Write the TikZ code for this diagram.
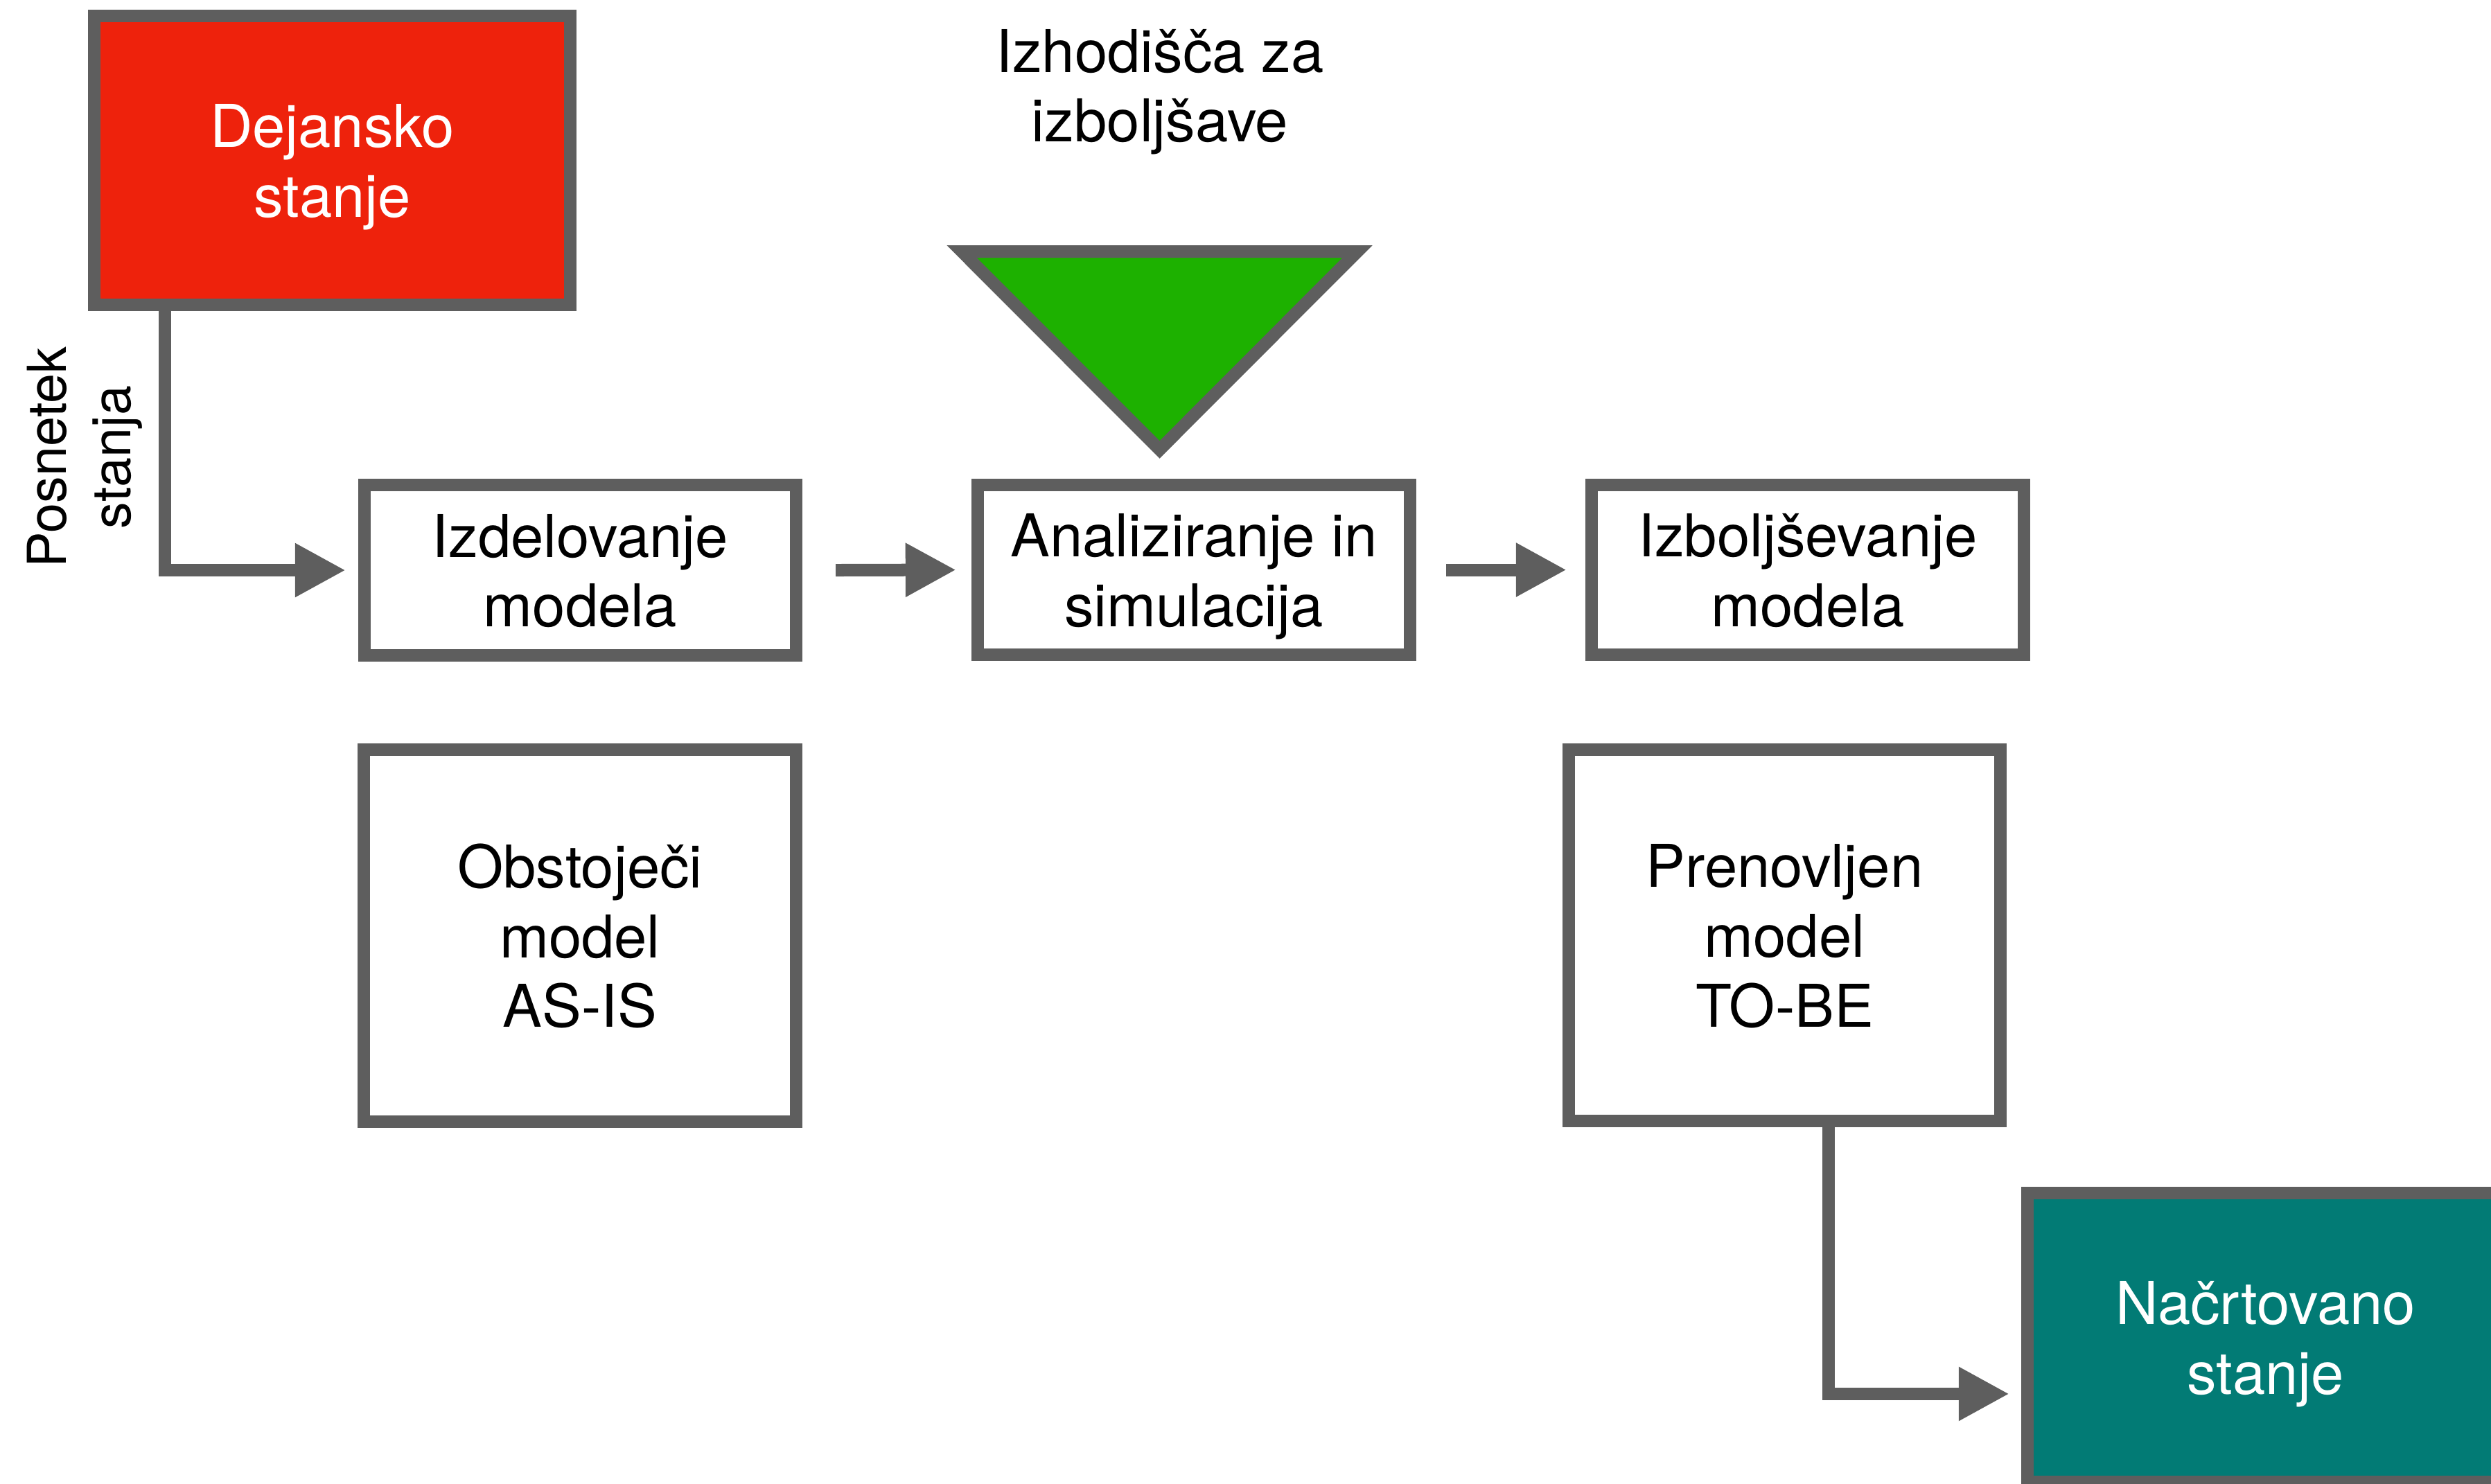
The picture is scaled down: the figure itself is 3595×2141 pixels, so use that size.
\documentclass[tikz,border=0pt]{standalone}
\usepackage{fontspec}
\setmainfont{TeX Gyre Heros}
\usetikzlibrary{arrows.meta,calc}
\definecolor{edgegray}{HTML}{5E5E5E}
\definecolor{statered}{HTML}{EE220C}
\definecolor{ideagreen}{HTML}{1DB100}
\definecolor{planteal}{HTML}{027B75}
% fixed line strut so every line box has the same height and depth
\newcommand\ls{\rule[-5.4pt]{0pt}{28.7pt}}
\begin{document}
\begin{tikzpicture}[x=0.01cm,y=-0.01cm,
  box/.style={draw=edgegray, line width=0.18cm, fill=white, rectangle,
    align=center, inner sep=0pt, font=\fontsize{24.2}{28.7}\selectfont},
  conn/.style={draw=edgegray, line width=0.18cm,
    -{Triangle[length=0.73cm,width=0.73cm]}},
  plain/.style={align=center, inner sep=0pt}]
\useasboundingbox (0,0) rectangle (3595,2141);
\clip (0,0) rectangle (3595,2141);

% states
\node[box, fill=statered, text=white, minimum width=6.87cm, minimum height=4.17cm]
  (real) at (479.5,231.5) {\ls Dejansko\\\ls stanje};
\node[box, fill=planteal, text=white, minimum width=6.87cm, minimum height=4.17cm]
  (plan) at (3269.5,1930.5) {\ls Načrtovano\\\ls stanje};

% process steps
\node[box, minimum width=6.23cm, minimum height=2.46cm] (izd) at (837.5,823)
  {\ls Izdelovanje\\\ls modela};
\node[box, minimum width=6.24cm, minimum height=2.45cm] (anal) at (1723,822.5)
  {\ls Analiziranje in\\\ls simulacija};
\node[box, minimum width=6.24cm, minimum height=2.45cm] (izb) at (2609,822.5)
  {\ls Izboljševanje\\\ls modela};

% models
\node[box, minimum width=6.24cm, minimum height=5.37cm] (asis) at (837,1350.5)
  {\ls Obstoječi\\\ls model\\\ls AS-IS};
\node[box, minimum width=6.23cm, minimum height=5.36cm] (tobe) at (2575.5,1350)
  {\ls Prenovljen\\\ls model\\\ls TO-BE};

% improvement input
\node[plain, font=\fontsize{24.2}{28.7}\selectfont] (ideas) at (1674,123)
  {\ls Izhodišča za\\\ls izboljšave};
\coordinate (tl) at (1388,363);
\coordinate (tr) at (1959,363);
\coordinate (tip) at (1673.5,649);
\draw[draw=edgegray, fill=ideagreen, line width=0.18cm] (tl) -- (tr) -- (tip) -- cycle;

% snapshot label
\node[plain, rotate=90, font=\fontsize{22}{26.4}\selectfont] (snap) at (122,660) {Posnetek\\stanja};

% connectors
\draw[conn] ($(real.south west)+(111,0)$) |- ($(izd.west)+(-18,0)$);
\draw[conn] ($(izd.east)+(48,0)$) -- ($(anal.west)+(-22,0)$);
\draw[conn] ($(anal.east)+(43,0)$) -- ($(izb.west)+(-27,0)$);
\draw[conn] ($(tobe.south west)+(384,0)$) |- ($(plan.north west)+(-17,299)$);
\end{tikzpicture}
\end{document}
